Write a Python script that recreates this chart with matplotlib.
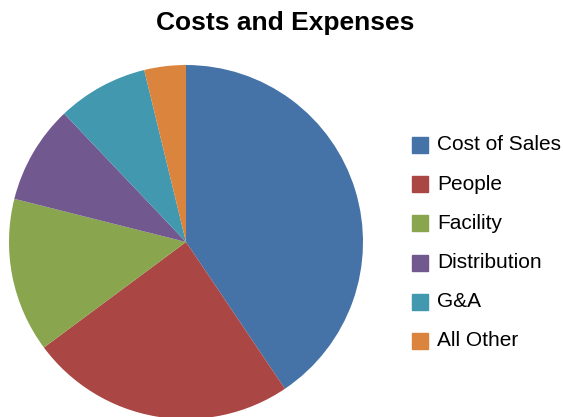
import matplotlib
matplotlib.use("Agg")
import matplotlib.pyplot as plt
from matplotlib.patches import Rectangle

# slice shares (percent)
labels = ["Cost of Sales", "People", "Facility", "Distribution", "G&A", "All Other"]
values = [40.6, 24.3, 14.1, 9.0, 8.3, 3.8]
colors = ["#4572A7", "#AA4643", "#89A54E", "#71588F", "#4198AF", "#DB843D"]

plt.rcParams['font.family'] = ['Liberation Sans', 'DejaVu Sans']

fig = plt.figure(figsize=(5.63, 4.17), dpi=100)
W, H = 563, 417

# pie axes: centre ~(186, 242) px, radius ~177 px
cx, cy, r = 186, 242, 177
ax = fig.add_axes([(cx - r) / W, (H - cy - r) / H, 2 * r / W, 2 * r / H])
ax.pie(values, colors=colors, startangle=90, counterclock=False,
       radius=1, wedgeprops=dict(linewidth=0))
ax.set_xlim(-1, 1)
ax.set_ylim(-1, 1)
ax.set_aspect('equal')
ax.axis('off')

fig.text(285 / W, 1 - 23 / H, "Costs and Expenses", ha='center', va='center',
         fontsize=19, fontweight='bold')

# legend drawn by hand
y0, dy = 145, 39.2
for i, (lab, col) in enumerate(zip(labels, colors)):
    y = y0 + i * dy
    fig.patches.append(Rectangle((412 / W, 1 - (y + 8) / H), 16 / W, 16 / H,
                                 transform=fig.transFigure, color=col))
    fig.text(437 / W, 1 - y / H, lab, ha='left', va='center', fontsize=15)

fig.savefig("out.png", dpi=100)
